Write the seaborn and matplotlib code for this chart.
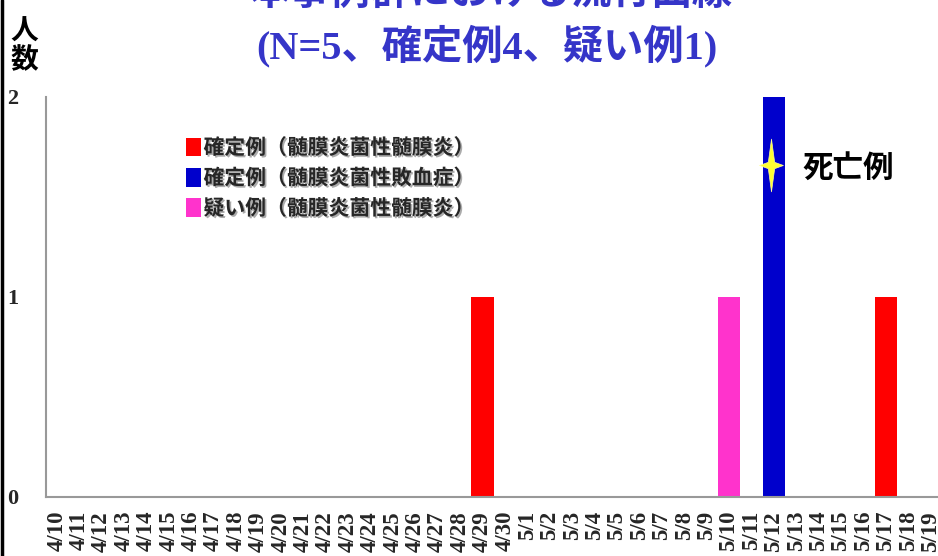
import matplotlib
matplotlib.use("Agg")
import matplotlib.pyplot as plt
import matplotlib.patheffects as pe
from matplotlib.patches import Patch
from matplotlib.lines import Line2D
from matplotlib.path import Path
import seaborn as sns
import pandas as pd

# ---------------- data ----------------
dates = ['4/10', '4/11', '4/12', '4/13', '4/14', '4/15', '4/16', '4/17', '4/18', '4/19',
         '4/20', '4/21', '4/22', '4/23', '4/24', '4/25', '4/26', '4/27', '4/28', '4/29',
         '4/30', '5/1', '5/2', '5/3', '5/4', '5/5', '5/6', '5/7', '5/8', '5/9',
         '5/10', '5/11', '5/12', '5/13', '5/14', '5/15', '5/16', '5/17', '5/18', '5/19']
confirmed_meningitis = [0, 0, 0, 0, 0, 0, 0, 0, 0, 0,
                        0, 0, 0, 0, 0, 0, 0, 0, 0, 1,
                        0, 0, 0, 0, 0, 0, 0, 0, 0, 0,
                        0, 0, 0, 0, 0, 0, 0, 1, 0, 0]
confirmed_sepsis = [0, 0, 0, 0, 0, 0, 0, 0, 0, 0,
                    0, 0, 0, 0, 0, 0, 0, 0, 0, 0,
                    0, 0, 0, 0, 0, 0, 0, 0, 0, 0,
                    0, 0, 2, 0, 0, 0, 0, 0, 0, 0]
suspected_meningitis = [0, 0, 0, 0, 0, 0, 0, 0, 0, 0,
                        0, 0, 0, 0, 0, 0, 0, 0, 0, 0,
                        0, 0, 0, 0, 0, 0, 0, 0, 0, 0,
                        1, 0, 0, 0, 0, 0, 0, 0, 0, 0]
categories = ['確定例（髄膜炎菌性髄膜炎）', '確定例（髄膜炎菌性敗血症）', '疑い例（髄膜炎菌性髄膜炎）']
colors = ['#FF0000', '#0000CC', '#FF33CC']
death_date = '5/12'
death_label = '死亡例'
y_ticks = [0, 1, 2]
title_line1 = '本事例群における流行曲線'
title_line2 = '(N=5、確定例4、疑い例1)'
y_label = '人\n数'

series = [confirmed_meningitis, confirmed_sepsis, suspected_meningitis]
rows = []
for cat, vals in zip(categories, series):
    for d, v in zip(dates, vals):
        rows.append({'date': d, 'category': cat, 'count': v})
df = pd.DataFrame(rows)

# ---------------- figure ----------------
sns.set_style('white')
plt.rcParams['font.family'] = ['Noto Sans CJK JP', 'DejaVu Sans']

W, H = 938, 556
fig = plt.figure(figsize=(W / 100, H / 100), dpi=100)
ax = fig.add_axes([45.7 / W, 1 - 497 / H, 896 / W, 400 / H])

sns.barplot(data=df, x='date', y='count', hue='category', order=dates,
            hue_order=categories, palette=dict(zip(categories, colors)),
            dodge=False, width=1.0, linewidth=0, saturation=1, legend=False, ax=ax)

ax.set_xlim(-0.5, len(dates) - 0.5)
ax.set_ylim(0, 2)
ax.set_yticks(y_ticks)
ax.set_xlabel('')
ax.set_ylabel('')
for s in ['top', 'right']:
    ax.spines[s].set_visible(False)
for s in ['left', 'bottom']:
    ax.spines[s].set_color('#999999')
    ax.spines[s].set_linewidth(1.5)

serif = ['Liberation Serif', 'DejaVu Serif']
ax.tick_params(axis='y', length=0, pad=20)
ax.tick_params(axis='x', length=0, pad=10)
for lab in ax.get_yticklabels():
    lab.set_fontfamily(serif)
    lab.set_fontweight('bold')
    lab.set_fontsize(16)
ax.set_xticks(range(len(dates)))
ax.set_xticklabels(dates, rotation=90, fontfamily=serif, fontweight='bold', fontsize=16.5)

# legend
handles = [Patch(facecolor=c, edgecolor='none') for c in colors]
leg = fig.legend(handles, categories, loc='upper left',
                 bbox_to_anchor=(186 / W, 1 - 137 / H), frameon=False,
                 borderpad=0, borderaxespad=0, handlelength=0.72, handleheight=1.0,
                 handletextpad=0.12, labelspacing=0.45,
                 prop={'family': ['Noto Sans CJK JP', 'DejaVu Sans'], 'weight': 'bold', 'size': 15})
for t in leg.get_texts():
    t.set_path_effects([pe.withSimplePatchShadow(offset=(1.2, -1.2), shadow_rgbFace='#888888', alpha=0.7)])

# death marker (4-pointed star)
star = Path([(0, 1), (0.12, 0.12), (0.45, 0), (0.12, -0.12), (0, -1), (-0.12, -0.12),
             (-0.45, 0), (-0.12, 0.12), (0, 1)],
            [Path.MOVETO] + [Path.LINETO] * 7 + [Path.CLOSEPOLY])
xi = dates.index(death_date)
ax.plot([xi - 0.1], [1.66], marker=star, markersize=38, color='#FFFF33',
        markeredgecolor='#FFFF99', markeredgewidth=0.5, linestyle='none')
ax.text(xi + 1.3, 1.645, death_label, fontsize=22, fontweight='bold',
        va='center', ha='left', color='black')

# titles
tfam = ['Liberation Serif', 'Noto Sans CJK JP', 'DejaVu Sans']
fig.text(491 / W, 1 - 13 / H, title_line1, ha='center', va='bottom', fontsize=29,
         fontweight='bold', color='#3535C8', family=tfam)
fig.text(487 / W, 1 - 46 / H, title_line2, ha='center', va='center', fontsize=29,
         fontweight='bold', color='#3535C8', family=tfam)

# y label
fig.text(24 / W, 1 - 46 / H, y_label, ha='center', va='center', fontsize=20,
         fontweight='bold', linespacing=1.0, color='black')

# left border line
fig.add_artist(Line2D([1.5 / W, 1.5 / W], [0, 1], color='black', lw=2.5,
                      transform=fig.transFigure))

fig.savefig('out.png', dpi=100)
